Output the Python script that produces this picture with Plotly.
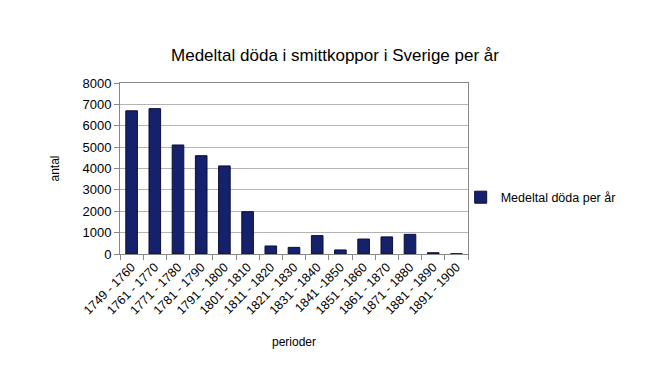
import plotly.graph_objects as go

perioder = ["1749 - 1760", "1761 - 1770", "1771 - 1780", "1781 - 1790", "1791 - 1800",
            "1801 - 1810", "1811 - 1820", "1821 - 1830", "1831 - 1840", "1841 -1850",
            "1851 - 1860", "1861 - 1870", "1871 - 1880", "1881 - 1890", "1891 - 1900"]
doda = [6700, 6800, 5100, 4600, 4120, 1980, 375, 310, 860, 190, 700, 800, 920, 60, 10]
y_ticks = [0, 1000, 2000, 3000, 4000, 5000, 6000, 7000, 8000]

FONT = "Liberation Sans, Arial, sans-serif"

fig = go.Figure()
fig.add_trace(go.Bar(
    x=perioder, y=doda, name="Medeltal döda per år",
    marker=dict(color="#15216b", line=dict(color="#0a0f3a", width=1)),
    width=0.5,
))

fig.update_layout(
    width=654, height=364,
    margin=dict(l=112, r=194, t=75, b=118),
    paper_bgcolor="white", plot_bgcolor="white",
    font=dict(family=FONT, color="black", size=12),
    title=dict(text="Medeltal döda i smittkoppor i Sverige per år",
               x=0.5, xanchor="center", y=0.871, yanchor="middle",
               font=dict(size=17, family=FONT)),
    showlegend=True,
    legend=dict(x=0.979, y=0.33, xanchor="left", yanchor="middle",
                font=dict(size=12.5, family=FONT), itemwidth=30,
                bgcolor="rgba(0,0,0,0)"),
    bargap=0.5,
)
fig.update_xaxes(
    type="category", tickangle=-45, tickson="boundaries",
    ticks="outside", ticklen=5, tickcolor="#888",
    showline=True, linecolor="#888", linewidth=1, mirror=True,
    showgrid=False, automargin=False,
    tickfont=dict(size=12.5, family=FONT),
    title=dict(text="perioder", font=dict(size=12, family=FONT), standoff=21),
)
fig.update_yaxes(
    range=[0, 8000], tickvals=y_ticks,
    ticks="outside", ticklen=5, tickcolor="#888",
    showline=True, linecolor="#888", linewidth=1, mirror=True,
    showgrid=True, gridcolor="#b3b3b3", gridwidth=1,
    zeroline=False, automargin=False,
    tickfont=dict(size=13, family=FONT),
    title=dict(text="antal", font=dict(size=12, family=FONT), standoff=20),
)

fig.write_html("out.html")
